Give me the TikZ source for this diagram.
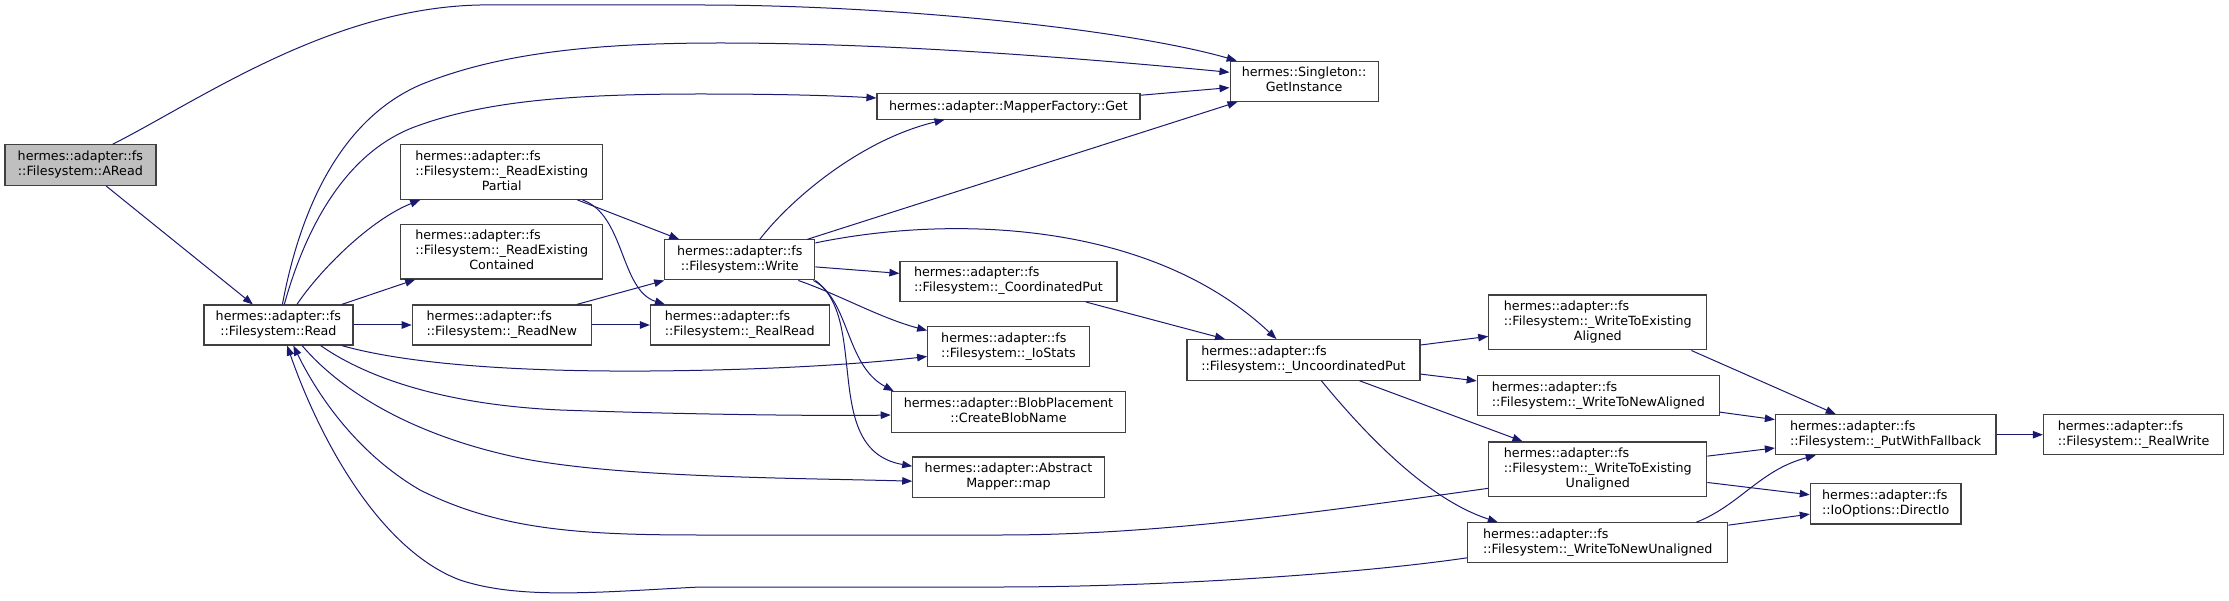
\documentclass[tikz,border=0pt]{standalone}
\usepackage{fontspec}
\setmainfont{DejaVu Sans}
\usepackage{tikz}
\usetikzlibrary{arrows.meta}
\usepackage{xcolor}
\definecolor{edgeblue}{HTML}{191970}
\definecolor{boxline}{HTML}{404040}
\newcommand{\fnlabel}[2]{\begin{tabular}{@{}l@{}}#1\\\multicolumn{1}{@{}c@{}}{#2}\end{tabular}}

\begin{document}
\begin{tikzpicture}[x=1pt, y=-1pt,
        fnbox/.style={draw=boxline, line width=1.2pt, fill=white, inner sep=0pt,
            font=\fontsize{12.7}{15}\selectfont},
        call/.style={draw=edgeblue, line width=1pt, -{Triangle[length=10pt,width=7.5pt]}}]
        \useasboundingbox (0,0) rectangle (2229,601);
        % Caixas
        \node[fnbox, fill=black!25, minimum width=151pt, minimum height=40.6pt] (aread) at (80.4,165.2) {\fnlabel{hermes::adapter::fs}{::Filesystem::ARead}};
        \node[fnbox, minimum width=149pt, minimum height=40pt] (read) at (278.4,325) {\fnlabel{hermes::adapter::fs}{::Filesystem::Read}};
        \node[fnbox, minimum width=202pt, minimum height=54.4pt] (partial) at (501.8,172.1) {\fnlabel{hermes::adapter::fs\\::Filesystem::\_ReadExisting}{Partial}};
        \node[fnbox, minimum width=202pt, minimum height=54.4pt] (contained) at (501.8,251.8) {\fnlabel{hermes::adapter::fs\\::Filesystem::\_ReadExisting}{Contained}};
        \node[fnbox, minimum width=179pt, minimum height=40pt] (readnew) at (501.8,325) {\fnlabel{hermes::adapter::fs}{::Filesystem::\_ReadNew}};
        \node[fnbox, minimum width=150pt, minimum height=40pt] (write) at (739.8,259.9) {\fnlabel{hermes::adapter::fs}{::Filesystem::Write}};
        \node[fnbox, minimum width=178.6pt, minimum height=40pt] (realread) at (739.8,325) {\fnlabel{hermes::adapter::fs}{::Filesystem::\_RealRead}};
        \node[fnbox, minimum width=148pt, minimum height=40pt] (getinst) at (1304.1,81.3) {\fnlabel{hermes::Singleton::}{GetInstance}};
        \node[fnbox, minimum width=263pt, minimum height=25.3pt] (mapperget) at (1008.5,106.5) {hermes::adapter::MapperFactory::Get};
        \node[fnbox, minimum width=217pt, minimum height=40pt] (coordput) at (1008.5,281.4) {\fnlabel{hermes::adapter::fs}{::Filesystem::\_CoordinatedPut}};
        \node[fnbox, minimum width=161.6pt, minimum height=40pt] (iostats) at (1008.5,346.5) {\fnlabel{hermes::adapter::fs}{::Filesystem::\_IoStats}};
        \node[fnbox, minimum width=234.4pt, minimum height=40.6pt] (blob) at (1008.5,412) {\fnlabel{hermes::adapter::BlobPlacement}{::CreateBlobName}};
        \node[fnbox, minimum width=191.4pt, minimum height=40.6pt] (abstract) at (1008.5,477.2) {\fnlabel{hermes::adapter::Abstract}{Mapper::map}};
        \node[fnbox, minimum width=233pt, minimum height=40.6pt] (uncoord) at (1303.4,359.9) {\fnlabel{hermes::adapter::fs}{::Filesystem::\_UncoordinatedPut}};
        \node[fnbox, minimum width=218pt, minimum height=54.8pt] (wtea) at (1597.8,322.5) {\fnlabel{hermes::adapter::fs\\::Filesystem::\_WriteToExisting}{Aligned}};
        \node[fnbox, minimum width=242pt, minimum height=40pt] (wtna) at (1598.3,395.6) {\fnlabel{hermes::adapter::fs}{::Filesystem::\_WriteToNewAligned}};
        \node[fnbox, minimum width=218pt, minimum height=54.8pt] (wteu) at (1597.8,469.3) {\fnlabel{hermes::adapter::fs\\::Filesystem::\_WriteToExisting}{Unaligned}};
        \node[fnbox, minimum width=260pt, minimum height=40pt] (wtnu) at (1597.8,542.8) {\fnlabel{hermes::adapter::fs}{::Filesystem::\_WriteToNewUnaligned}};
        \node[fnbox, minimum width=220.5pt, minimum height=40pt] (pwf) at (1885.7,434.7) {\fnlabel{hermes::adapter::fs}{::Filesystem::\_PutWithFallback}};
        \node[fnbox, minimum width=180.3pt, minimum height=40pt] (realwrite) at (2133.6,434.7) {\fnlabel{hermes::adapter::fs}{::Filesystem::\_RealWrite}};
        \node[fnbox, minimum width=150.7pt, minimum height=40.3pt] (directio) at (1885.7,503.9) {\fnlabel{hermes::adapter::fs}{::IoOptions::DirectIo}};
        % Chamadas
        \draw[call] (aread.33) .. controls (200,100) and (330,8) .. (480,5) -- (700,5) .. controls (900,5) and (1130,30) .. (getinst.163);
        \draw[call] (aread) -- (read);
        \draw[call] (read.79) .. controls (300,210) and (340,120) .. (420,85) .. controls (500,52) and (600,43) .. (720,43) .. controls (900,43) and (1100,60) .. ([yshift=9pt]getinst.west);
        \draw[call] (read.74) .. controls (305,230) and (345,150) .. (420,125) .. controls (490,100) and (580,94) .. (700,94) .. controls (790,94) and (840,96) .. ([yshift=8.5pt]mapperget.west);
        \draw[call] (read.48) .. controls (320,270) and (370,220) .. ([xshift=20pt]partial.south west);
        \draw[call] (read.18) -- ([xshift=15pt]contained.south west);
        \draw[call] (read) -- (readnew);
        \draw[call] (read.-18) .. controls (400,362) and (500,372) .. (650,371) .. controls (780,370) and (870,363) .. ([yshift=-10pt]iostats.west);
        \draw[call] (read.-26) .. controls (370,380) and (450,405) .. (560,410) .. controls (700,415) and (840,416) .. ([yshift=-3pt]blob.west);
        \draw[call] (read.-41) .. controls (340,390) and (410,435) .. (520,458) .. controls (620,478) and (800,478) .. ([yshift=-4pt]abstract.west);
        \draw[call] ([xshift=-26pt]partial.south east) -- ([xshift=15pt]write.north west);
        \draw[call] ([xshift=-21pt]partial.south east) .. controls (625,215) and (620,290) .. ([xshift=15pt]realread.north west);
        \draw[call] ([xshift=-15pt]readnew.north east) -- (write.south west);
        \draw[call] (readnew) -- (realread);
        \draw[call] ([xshift=20pt]write.north) .. controls (790,200) and (860,140) .. ([xshift=-64pt]mapperget.south);
        \draw[call] ([xshift=-8pt]write.north east) -- ([xshift=8pt]getinst.south west);
        \draw[call] ([yshift=17pt]write.east) .. controls (950,215) and (1150,220) .. ([xshift=-27pt]uncoord.north);
        \draw[call] ([yshift=-7pt]write.east) -- ([yshift=8pt]coordput.west);
        \draw[call] ([xshift=-17pt]write.south east) .. controls (840,295) and (880,318) .. ([yshift=16pt]iostats.west);
        \draw[call] ([xshift=-2pt]write.south east) .. controls (850,300) and (845,365) .. ([xshift=3pt]blob.north west);
        \draw[call] (write.south east) .. controls (870,320) and (820,450) .. ([yshift=11pt]abstract.west);
        \draw[call] (mapperget) -- (getinst);
        \draw[call] (coordput) -- (uncoord);
        \draw[call] (uncoord) -- (wtea);
        \draw[call] (uncoord) -- (wtna);
        \draw[call] (uncoord) -- (wteu);
        \draw[call] ([xshift=18pt]uncoord.south) .. controls (1370,440) and (1430,500) .. ([xshift=-100pt]wtnu.north);
        \draw[call] ([xshift=-16pt]wtea.south east) -- ([xshift=-50pt]pwf.north);
        \draw[call] (wtna) -- (pwf);
        \draw[call] (wteu) -- (pwf);
        \draw[call] (wteu) -- (directio);
        \draw[call] ([xshift=-32pt]wtnu.north east) .. controls (1740,505) and (1760,470) .. ([xshift=-70pt]pwf.south);
        \draw[call] (wtnu) -- (directio);
        \draw[call] (pwf) -- (realwrite);
        % Retorno para Read
        \draw[call] ([yshift=-19pt]wteu.west) .. controls (1300,515) and (1150,535) .. (1000,535) -- (700,535) .. controls (580,535) and (500,530) .. (420,490) .. controls (360,455) and (320,400) .. (read.-54);
        \draw[call] ([yshift=-15pt]wtnu.west) .. controls (1350,575) and (1150,587) .. (1000,587) -- (700,587) .. controls (600,592) and (520,600) .. (460,580) .. controls (380,550) and (320,440) .. (read.-67);
    \end{tikzpicture}
\end{document}
